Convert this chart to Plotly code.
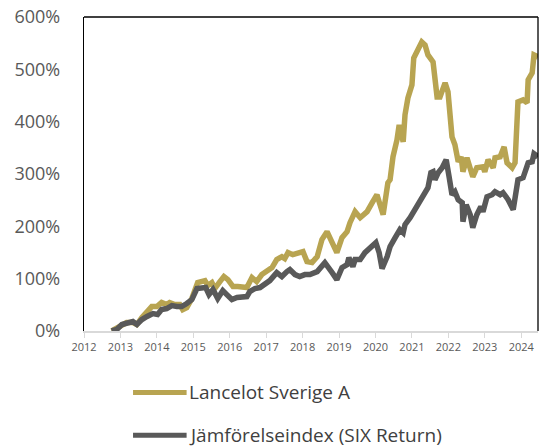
import plotly.graph_objects as go

# Decimal-year positions and cumulative returns (%)
lancelot_years = [2012.76, 2012.90, 2013.04, 2013.17, 2013.34, 2013.45, 2013.59, 2013.73, 2013.86, 2014.00,
                  2014.13, 2014.27, 2014.35, 2014.49, 2014.63, 2014.71, 2014.82, 2014.96, 2015.12, 2015.32,
                  2015.40, 2015.51, 2015.59, 2015.73, 2015.84, 2015.95, 2016.09, 2016.22, 2016.36, 2016.47,
                  2016.61, 2016.74, 2016.88, 2017.02, 2017.16, 2017.29, 2017.43, 2017.51, 2017.60, 2017.73,
                  2017.87, 2018.01, 2018.12, 2018.26, 2018.40, 2018.53, 2018.67, 2018.81, 2018.94, 2019.08,
                  2019.22, 2019.30, 2019.44, 2019.58, 2019.77, 2019.91, 2020.04, 2020.21, 2020.34, 2020.40,
                  2020.48, 2020.59, 2020.65, 2020.76, 2020.81, 2020.89, 2021.00, 2021.05, 2021.16, 2021.27,
                  2021.36, 2021.44, 2021.58, 2021.69, 2021.77, 2021.91, 2021.99, 2022.10, 2022.18, 2022.27,
                  2022.35, 2022.40, 2022.51, 2022.67, 2022.78, 2022.95, 2023.00, 2023.09, 2023.23, 2023.28,
                  2023.42, 2023.53, 2023.61, 2023.75, 2023.83, 2023.91, 2024.05, 2024.16, 2024.19, 2024.30,
                  2024.35, 2024.46]
lancelot_values = [0, 4.8, 12.4, 16.2, 16.2, 12.4, 25.8, 37.2, 46.7, 46.7,
                   54.4, 50.6, 54.4, 50.6, 50.6, 41.0, 44.8, 62.0, 92.5, 96.3,
                   86.8, 92.5, 81.1, 94.4, 104.0, 98.2, 84.9, 84.9, 83.0, 83.0,
                   102.1, 94.4, 107.8, 113.5, 121.1, 136.4, 142.1, 138.3, 149.8, 145.9,
                   149.8, 151.7, 132.6, 130.7, 142.1, 174.6, 189.8, 170.7, 149.8, 178.4,
                   189.8, 207.0, 228.0, 216.5, 228.0, 245.1, 260.4, 222.2, 283.3, 289.0,
                   332.9, 365.3, 394.0, 361.5, 413.0, 445.4, 470.3, 521.8, 537.0, 552.3,
                   546.5, 527.5, 514.1, 447.3, 447.3, 474.1, 456.9, 371.0, 355.8, 323.4,
                   332.9, 304.3, 330.9, 294.7, 311.9, 313.8, 304.3, 327.2, 311.9, 330.9,
                   332.9, 351.8, 321.4, 311.9, 321.4, 437.8, 441.6, 435.9, 479.8, 493.1,
                   527.5, 523.7]

index_years = [2012.76, 2012.90, 2013.04, 2013.20, 2013.34, 2013.45, 2013.59, 2013.73, 2013.89, 2014.02,
               2014.13, 2014.27, 2014.41, 2014.55, 2014.68, 2014.82, 2014.96, 2015.10, 2015.23, 2015.34,
               2015.43, 2015.54, 2015.67, 2015.81, 2015.92, 2016.06, 2016.20, 2016.36, 2016.47, 2016.55,
               2016.69, 2016.83, 2016.96, 2017.10, 2017.29, 2017.43, 2017.57, 2017.65, 2017.79, 2017.92,
               2018.06, 2018.20, 2018.40, 2018.61, 2018.81, 2018.94, 2019.08, 2019.22, 2019.27, 2019.38,
               2019.44, 2019.58, 2019.71, 2019.85, 2020.01, 2020.10, 2020.18, 2020.32, 2020.40, 2020.54,
               2020.67, 2020.76, 2020.81, 2020.95, 2021.08, 2021.22, 2021.36, 2021.44, 2021.52, 2021.58,
               2021.63, 2021.72, 2021.83, 2021.94, 2022.02, 2022.10, 2022.18, 2022.27, 2022.38, 2022.40,
               2022.49, 2022.60, 2022.67, 2022.78, 2022.89, 2022.95, 2023.06, 2023.20, 2023.28, 2023.42,
               2023.50, 2023.64, 2023.78, 2023.91, 2024.05, 2024.19, 2024.30, 2024.35, 2024.46]
index_values = [0, 2.9, 12.4, 16.2, 18.1, 12.4, 21.9, 27.7, 33.4, 31.5,
                41.0, 42.9, 48.6, 46.7, 46.7, 52.5, 60.1, 81.1, 83.0, 83.0,
                69.6, 79.2, 62.0, 77.3, 69.6, 60.1, 63.9, 65.8, 65.8, 75.4,
                81.1, 83.0, 88.7, 96.3, 111.6, 104.0, 113.5, 117.3, 107.8, 104.0,
                107.8, 107.8, 113.5, 130.7, 111.6, 98.2, 121.1, 126.8, 140.2, 123.0,
                136.4, 136.4, 149.8, 159.3, 168.8, 149.8, 119.2, 142.1, 161.2, 178.4,
                193.6, 187.9, 203.2, 216.5, 231.8, 250.9, 266.1, 273.8, 302.4, 304.3,
                289.0, 302.4, 311.9, 327.2, 294.7, 260.4, 266.1, 250.9, 245.2, 208.9,
                241.3, 222.2, 197.4, 222.2, 237.5, 227.9, 256.6, 260.4, 266.1, 260.4,
                264.2, 250.9, 231.8, 289.0, 292.8, 321.4, 323.4, 338.6, 332.9]

year_ticks = list(range(2012, 2025))
pct_ticks = [0, 100, 200, 300, 400, 500, 600]
names = ["Lancelot Sverige A", "Jämförelseindex (SIX Return)"]

GOLD = "#B8A451"
GRAY = "#595959"
FONT = "'Open Sans', Lato, sans-serif"

fig = go.Figure()
fig.add_trace(go.Scatter(x=lancelot_years, y=lancelot_values, mode="lines", name=names[0],
                         line=dict(color=GOLD, width=5.5, shape="linear"), showlegend=False))
fig.add_trace(go.Scatter(x=index_years, y=index_values, mode="lines", name=names[1],
                         line=dict(color=GRAY, width=5.5, shape="linear"), showlegend=False))

# Manual legend (long thick swatches as in the reference)
legend_rows = [(GOLD, names[0], -0.1955), (GRAY, names[1], -0.332)]
for color, label, yy in legend_rows:
    fig.add_shape(type="line", xref="paper", yref="paper", x0=0.108, x1=0.226, y0=yy, y1=yy,
                  line=dict(color=color, width=5), layer="above")
    fig.add_annotation(xref="paper", yref="paper", x=0.2275, y=yy, text=label, showarrow=False,
                       xanchor="left", yanchor="middle",
                       font=dict(family=FONT, size=19, color="#404040"))

# Black frame on top and right
fig.add_shape(type="line", xref="paper", yref="paper", x0=0, x1=1, y0=1, y1=1,
              line=dict(color="black", width=1.3))
fig.add_shape(type="line", xref="paper", yref="paper", x0=1, x1=1, y0=0, y1=1,
              line=dict(color="black", width=1.3))

# The page body adds an 8 px margin, so the figure is 8 px smaller and shifted
fig.update_layout(
    width=540, height=440,
    margin=dict(l=76, r=10, t=9, b=116.5, autoexpand=False),
    paper_bgcolor="white", plot_bgcolor="white",
    font=dict(family=FONT, color="#595959"),
    showlegend=False,
)
fig.update_xaxes(range=[2012, 2024.46], tickvals=year_ticks, ticktext=[str(t) for t in year_ticks],
                 showgrid=False, zeroline=False, showline=True, linecolor="#D9D9D9", linewidth=1.5,
                 ticks="outside", ticklen=5, tickcolor="#D9D9D9", tickwidth=1.3, automargin=False,
                 tickfont=dict(family=FONT, size=11, color="#595959"))
fig.update_yaxes(range=[0, 600], tickvals=pct_ticks, ticktext=[f"{v}%" for v in pct_ticks],
                 showgrid=False, zeroline=False, showline=True, linecolor="black", linewidth=1.3,
                 ticks="", ticklabelstandoff=19, automargin=False, ticklabeloverflow="allow",
                 tickfont=dict(family=FONT, size=18, color="#595959"))

fig.write_html("out.html")
